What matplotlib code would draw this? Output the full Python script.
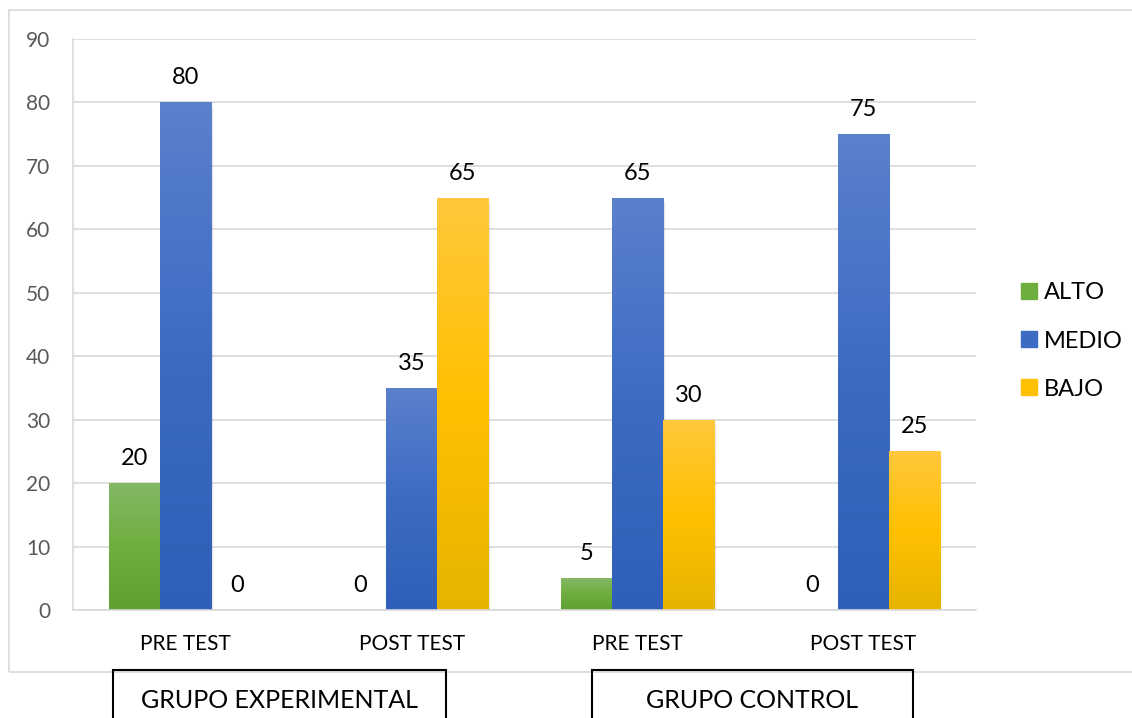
import matplotlib
matplotlib.use("Agg")
import matplotlib.pyplot as plt
import numpy as np
from matplotlib.patches import Rectangle
from matplotlib.colors import to_rgb

plt.rcParams['font.family'] = ['Lato', 'DejaVu Sans']

categories = ["PRE TEST", "POST TEST", "PRE TEST", "POST TEST"]
series_names = ["ALTO", "MEDIO", "BAJO"]
alto = [20, 0, 5, 0]
medio = [80, 35, 65, 75]
bajo = [0, 65, 30, 25]
groups = ["GRUPO EXPERIMENTAL", "GRUPO CONTROL"]
yticks = list(range(0, 91, 10))

# gradient colours: (top, middle, bottom)
grads = [
    ("#84B865", "#6DAE3E", "#5FA033"),
    ("#5B80CC", "#3D6BC4", "#2F5FB8"),
    ("#FFC83C", "#FFC000", "#E6B400"),
]
legend_colors = ["#6DAE3E", "#3D6BC4", "#FFC000"]

W, H = 1132, 718
fig = plt.figure(figsize=(W / 100, H / 100), dpi=100)

# outer chart frame
fig.patches.append(Rectangle((9 / W, (H - 672) / H), 1.2, (672 - 10) / H,
                             transform=fig.transFigure, fill=False,
                             edgecolor="#D9D9D9", lw=1.2, zorder=0))

ax = fig.add_axes([73 / W, (H - 610) / H, (976 - 73) / W, (610 - 39) / H])
ax.set_xlim(-0.5, len(categories) - 0.5)
ax.set_ylim(0, 90)
ax.set_yticks(yticks)
ax.yaxis.grid(True, color="#D9D9D9", lw=1.2)
ax.set_axisbelow(True)
for s in ["top", "right"]:
    ax.spines[s].set_visible(False)
ax.spines["left"].set_color("#D9D9D9")
ax.spines["bottom"].set_color("#D9D9D9")
ax.spines["left"].set_linewidth(1.2)
ax.spines["bottom"].set_linewidth(1.2)
ax.tick_params(axis="y", length=0, pad=16.5, labelsize=15, labelcolor="#595959")
ax.tick_params(axis="x", length=0, pad=17, labelsize=15, labelcolor="#000000")

x = np.arange(len(categories))
bw = 0.226
all_series = [alto, medio, bajo]
for i, (vals, g) in enumerate(zip(all_series, grads)):
    offs = (i - 1) * bw
    bars = ax.bar(x + offs, vals, width=bw, color=legend_colors[i],
                  label=series_names[i], zorder=2, linewidth=0)
    cols = np.array([to_rgb(c) for c in g])
    n = 100
    t = np.linspace(0, 1, n)
    grad = np.empty((n, 1, 3))
    for k in range(3):
        grad[:, 0, k] = np.interp(t, [0, 0.5, 1], cols[:, k])
    for j_bar, (b, v) in enumerate(zip(bars, vals)):
        if v > 0:
            x0 = b.get_x()
            # soft shadow
            for j, a in enumerate([0.10, 0.06, 0.03]):
                sh = Rectangle((x0 + 0.004 * (j + 1), 0), bw, v - 0.3 * (j + 1),
                               color="black", alpha=a, lw=0, zorder=1.5)
                ax.add_patch(sh)
            im = ax.imshow(grad, extent=(x0, x0 + bw, 0, v), aspect="auto",
                           origin="upper", zorder=2.5)
            im.set_clip_path(b)
        ax.annotate(str(v), (x[j_bar] + offs, v),
                    xytext=(0, 14), textcoords="offset pixels",
                    ha="center", va="bottom", fontsize=17, color="black")

ax.set_xticks(x)
ax.set_xticklabels(categories)
ax.set_xlim(-0.5, len(categories) - 0.5)
ax.set_ylim(0, 90)

# legend
handles = [Rectangle((0, 0), 1, 1, color=c) for c in legend_colors]
fig.legend(handles, series_names, loc="center left",
           bbox_to_anchor=(1000 / W, (H - 341) / H), frameon=False,
           fontsize=17, handlelength=0.65, handleheight=0.65,
           handletextpad=0.3, labelspacing=1.15)

# group boxes
for (x0, x1), name in zip([(113, 446), (592, 913)], groups):
    fig.patches.append(Rectangle((x0 / W, -0.05), (x1 - x0) / W, (H - 670) / H + 0.05,
                                 transform=fig.transFigure, fill=False,
                                 edgecolor="black", lw=1.5))
    fig.text((x0 + x1) / 2 / W, (H - 701) / H, name, ha="center", va="center",
             fontsize=18, color="black")

fig.savefig("out.png", dpi=100)
